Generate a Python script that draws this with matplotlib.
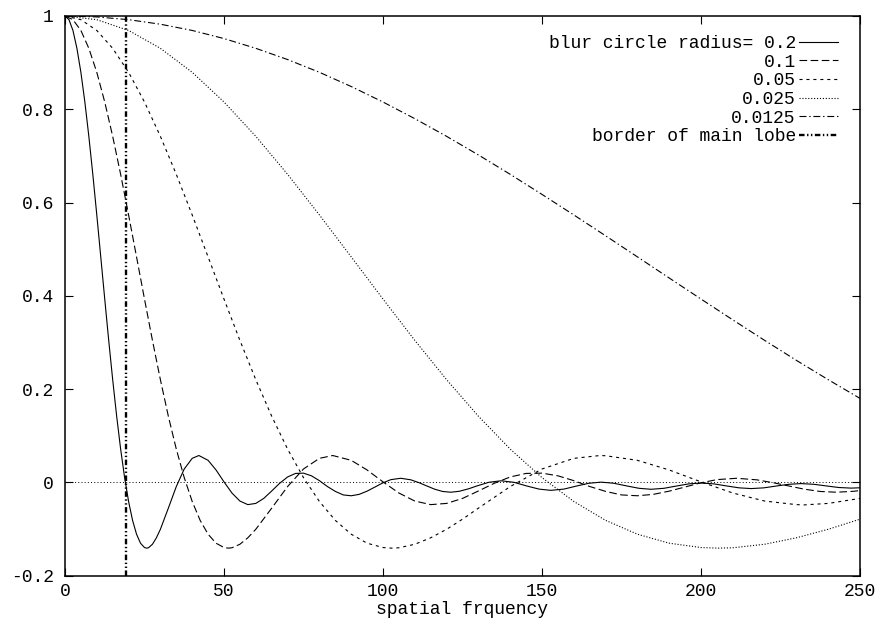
import matplotlib
matplotlib.use('agg')
import matplotlib.pyplot as plt

# blur circle OTF curves
freq_r020 = [0, 1.25, 2.5, 3.75, 5, 6.25, 7.5, 8.75, 10, 11.25, 12.5, 13.75, 15, 16.25,
             17.5, 18.75, 20, 21.25, 22.5, 23.75, 25, 25.7, 26.25,
             27.5, 28.75, 30, 32.5, 35, 37.5, 40, 42.1, 45, 47.5, 50, 52.5, 55, 57.5, 60, 62.5,
             65, 67.5, 70, 72.5, 75, 77.5, 80, 82.5, 85, 87.5, 90, 92.5, 95, 97.5, 100,
             102.5, 105.6, 108.75, 111.5, 113.8, 116.25, 118.75, 121.35, 124, 127, 129.5,
             133.3, 137.1, 141.15, 145.2, 149.05, 152.8, 156.9, 160.95, 164.75, 168.6,
             172.6, 176.7, 180.5, 184.3, 188.35, 192.4, 196.2, 200, 204.05, 208.1, 211.95,
             215.8, 219.8, 223.8, 227.65, 231.5, 235.5, 239.5, 243.35, 247.2, 250]
otf_r020 = [1.0, 0.9921, 0.9690, 0.9307, 0.8793, 0.8156, 0.7420, 0.6606, 0.5735, 0.4836,
            0.3932, 0.3046, 0.2203, 0.1420, 0.0715, 0.0103, -0.0408, -0.0813, -0.1110,
            -0.1303, -0.1396, -0.1409, -0.1401,
            -0.1326, -0.1187, -0.1005, -0.0552, -0.0089, 0.0288, 0.0516, 0.0577, 0.0474, 0.0267,
            0.0012, -0.0227, -0.0399, -0.0476, -0.0450, -0.0343, -0.0184, -0.0019, 0.0117,
            0.0193, 0.0199, 0.0142, 0.0038, -0.0087, -0.0192, -0.0268, -0.0286, -0.0256,
            -0.0187, -0.0098, -0.0008,
            0.0060, 0.0089, 0.0056, -0.0010, -0.0076, -0.0145, -0.0194, -0.0210, -0.0190,
            -0.0135, -0.0076, 0.0003, 0.0035, 0.0003, -0.0076, -0.0143, -0.0170, -0.0143,
            -0.0076, -0.0018, 0.0006, -0.0018, -0.0076, -0.0126, -0.0147, -0.0126, -0.0076,
            -0.0031, -0.0013, -0.0031, -0.0076, -0.0116, -0.0132, -0.0116, -0.0076, -0.0040,
            -0.0025, -0.0040, -0.0076, -0.0109, -0.0122, -0.0115]

freq_r010 = [0, 2.5, 5, 7.5, 10, 12.5, 15, 17.5, 20, 22.5, 25, 27.5, 30, 32.5, 35, 37.5,
             40, 42.5, 45, 47.5, 50, 51.4, 52.5,
             55, 57.5, 60, 65, 70, 75, 80, 84.2, 90, 95, 100, 105, 110, 115, 120, 125, 130, 135,
             140, 145, 150, 155, 160, 165, 170, 175, 180, 185, 190, 195, 200,
             205, 211.2, 217.5, 223, 227.6, 232.5, 237.5, 242.7, 248, 250]
otf_r010 = [1.0, 0.9921, 0.9690, 0.9307, 0.8793, 0.8156, 0.7420, 0.6606, 0.5735, 0.4836,
            0.3932, 0.3046, 0.2203, 0.1420, 0.0715, 0.0103, -0.0408, -0.0813, -0.1110,
            -0.1303, -0.1396, -0.1409, -0.1401,
            -0.1326, -0.1187, -0.1005, -0.0552, -0.0089, 0.0288, 0.0516, 0.0577, 0.0474, 0.0267,
            0.0012, -0.0227, -0.0399, -0.0476, -0.0450, -0.0343, -0.0184, -0.0019, 0.0117,
            0.0193, 0.0199, 0.0142, 0.0038, -0.0087, -0.0192, -0.0268, -0.0286, -0.0256,
            -0.0187, -0.0098, -0.0008,
            0.0060, 0.0089, 0.0056, -0.0010, -0.0076, -0.0145, -0.0194, -0.0210, -0.0190,
            -0.0174]

freq_r005 = [0, 5, 10, 15, 20, 25, 30, 35, 40, 45, 50, 55, 60, 65, 70, 75, 80, 85, 90,
             95, 100, 102.7, 105, 110, 115, 120, 125, 130, 140, 150, 160, 168.3, 170, 180,
             190, 200, 210, 220, 230, 232.4, 240, 250]
otf_r005 = [1.0, 0.9921, 0.9690, 0.9307, 0.8793, 0.8156, 0.7420, 0.6606, 0.5735, 0.4836,
            0.3932, 0.3046, 0.2203, 0.1420, 0.0715, 0.0103, -0.0408, -0.0813, -0.1110,
            -0.1303, -0.1396, -0.1409, -0.1401, -0.1326, -0.1187, -0.1005, -0.0788,
            -0.0552, -0.0089, 0.0288, 0.0516, 0.0577, 0.0572, 0.0474, 0.0267, 0.0012,
            -0.0227, -0.0399, -0.0476, -0.0482, -0.0450, -0.0343]

freq_r0025 = [0, 10, 20, 30, 40, 50, 60, 70, 80, 90, 100, 110, 120, 130, 140, 150, 160,
              170, 180, 190, 200, 205.4, 210, 220, 230, 240, 250]
otf_r0025 = [1.0, 0.9921, 0.9690, 0.9307, 0.8793, 0.8156, 0.7420, 0.6606, 0.5735, 0.4836,
             0.3932, 0.3046, 0.2203, 0.1420, 0.0715, 0.0103, -0.0408, -0.0813, -0.1110,
             -0.1303, -0.1396, -0.1409, -0.1401, -0.1326, -0.1187, -0.1005, -0.0788]

freq_r00125 = [0, 10, 20, 30, 40, 50, 60, 70, 80, 90, 100, 110, 120, 130, 140, 150, 160,
               170, 180, 190, 200, 210, 220, 230, 240, 250]
otf_r00125 = [1.0, 0.9980, 0.9921, 0.9824, 0.9690, 0.9516, 0.9307, 0.9066, 0.8793,
              0.8488, 0.8156, 0.7799, 0.7420, 0.7021, 0.6606, 0.6175, 0.5735, 0.5288,
              0.4836, 0.4383, 0.3932, 0.3485, 0.3046, 0.2617, 0.2203, 0.1802]

main_lobe_border = 19.16

labels = ['blur circle radius= 0.2', '0.1', '0.05', '0.025', '0.0125', 'border of main lobe']
x_ticks = [0, 50, 100, 150, 200, 250]
y_ticks = [-0.2, 0, 0.2, 0.4, 0.6, 0.8, 1]
y_tick_labels = ['-0.2', '0', '0.2', '0.4', '0.6', '0.8', '1']

plt.rcParams['font.family'] = ['Liberation Mono', 'DejaVu Sans Mono']
plt.rcParams['font.size'] = 13
plt.rcParams['lines.scale_dashes'] = False

fig = plt.figure(figsize=(8.77, 6.27), dpi=100)
ax = fig.add_axes([0.0741, 0.0818, 0.9065, 0.8927])

lw = 0.8
ax.plot(freq_r020, otf_r020, color='black', lw=lw, linestyle='-', label=labels[0])
ax.plot(freq_r010, otf_r010, color='black', lw=lw, linestyle=(0, (5.5, 2.5)), label=labels[1])
ax.plot(freq_r005, otf_r005, color='black', lw=lw, linestyle=(0, (2.2, 2.8)), label=labels[2])
ax.plot(freq_r0025, otf_r0025, color='black', lw=lw, linestyle=(0, (0.8, 1.3)), label=labels[3])
ax.plot(freq_r00125, otf_r00125, color='black', lw=lw, linestyle=(0, (5, 2, 1, 2)), label=labels[4])
ax.axvline(main_lobe_border, color='black', lw=1.7,
           linestyle=(0, (4, 1.8, 1, 1.8, 1, 1.8)), label=labels[5])
ax.axhline(0, color='black', lw=0.7, linestyle=(0, (0.7, 1.6)))

ax.set_xlim(0, 250)
ax.set_ylim(-0.2, 1)
ax.set_xticks(x_ticks)
ax.set_yticks(y_ticks)
ax.set_yticklabels(y_tick_labels)
ax.tick_params(direction='in', length=6, width=0.8, top=True, right=True, pad=8)
ax.tick_params(axis='x', pad=5)
for s in ax.spines.values():
    s.set_linewidth(1.1)

ax.set_xlabel('spatial frquency', labelpad=1)

leg = ax.legend(loc='upper right', bbox_to_anchor=(0.972, 0.966), frameon=False,
                markerfirst=False, handlelength=2.15, handletextpad=0.17,
                labelspacing=0.09, borderaxespad=0, borderpad=0)

plt.savefig('out.png', dpi=100)
